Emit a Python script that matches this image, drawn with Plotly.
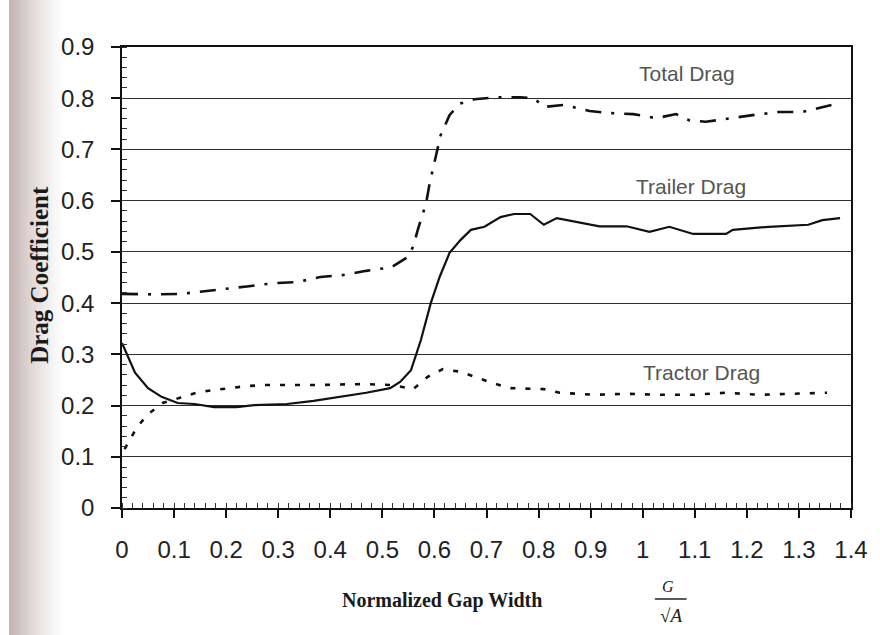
import plotly.graph_objects as go

# Normalized gap width G/sqrt(A) and drag coefficients
trailer_x = [0, 0.025, 0.05, 0.076, 0.107, 0.139, 0.177, 0.22, 0.254, 0.317, 0.368, 0.42, 0.469,
             0.515, 0.534, 0.555, 0.574, 0.593, 0.610, 0.629, 0.650, 0.670, 0.696, 0.727, 0.753,
             0.784, 0.81, 0.835, 0.874, 0.917, 0.969, 1.013, 1.051, 1.097, 1.160, 1.173, 1.242,
             1.318, 1.345, 1.379]
trailer_cd = [0.322, 0.264, 0.234, 0.217, 0.205, 0.203, 0.197, 0.197, 0.201, 0.203, 0.209, 0.217,
              0.225, 0.234, 0.246, 0.269, 0.328, 0.400, 0.451, 0.498, 0.523, 0.543, 0.549, 0.568,
              0.574, 0.574, 0.553, 0.566, 0.558, 0.550, 0.550, 0.539, 0.549, 0.535, 0.535, 0.543,
              0.549, 0.553, 0.562, 0.566]

total_x = [0, 0.06, 0.114, 0.154, 0.2, 0.244, 0.292, 0.336, 0.381, 0.425, 0.469, 0.517, 0.549,
           0.559, 0.568, 0.584, 0.591, 0.601, 0.612, 0.629, 0.648, 0.677, 0.721, 0.765, 0.791,
           0.81, 0.849, 0.898, 0.937, 0.982, 1.026, 1.064, 1.089, 1.121, 1.165, 1.211, 1.261,
           1.306, 1.364]
total_cd = [0.418, 0.417, 0.418, 0.422, 0.428, 0.433, 0.439, 0.441, 0.451, 0.455, 0.463, 0.470,
            0.490, 0.510, 0.543, 0.595, 0.635, 0.679, 0.728, 0.767, 0.789, 0.798, 0.802, 0.802,
            0.800, 0.783, 0.787, 0.775, 0.771, 0.769, 0.761, 0.769, 0.757, 0.754, 0.761, 0.767,
            0.773, 0.773, 0.787]

tractor_x = [0.005, 0.029, 0.05, 0.078, 0.111, 0.143, 0.174, 0.206, 0.240, 0.273, 0.368, 0.463,
             0.52, 0.559, 0.587, 0.616, 0.650, 0.683, 0.715, 0.746, 0.81, 0.841, 0.906, 0.969,
             1.032, 1.097, 1.160, 1.223, 1.287, 1.354]
tractor_cd = [0.115, 0.158, 0.183, 0.205, 0.215, 0.225, 0.230, 0.234, 0.238, 0.240, 0.240, 0.242,
              0.240, 0.232, 0.256, 0.271, 0.266, 0.254, 0.243, 0.234, 0.232, 0.225, 0.221, 0.223,
              0.221, 0.221, 0.225, 0.221, 0.223, 0.225]

curve_labels = ["Total Drag", "Trailer Drag", "Tractor Drag"]
label_pos = [(1.085, 0.848), (1.093, 0.628), (1.112, 0.265)]

fig = go.Figure()
fig.add_trace(go.Scatter(x=total_x, y=total_cd, mode="lines", name=curve_labels[0],
                         line=dict(color="#111", width=2.6, dash="16px,10px,3px,10px")))
fig.add_trace(go.Scatter(x=trailer_x, y=trailer_cd, mode="lines", name=curve_labels[1],
                         line=dict(color="#111", width=2.2)))
fig.add_trace(go.Scatter(x=tractor_x, y=tractor_cd, mode="lines", name=curve_labels[2],
                         line=dict(color="#111", width=2.6, dash="5px,10px")))

for text, (lx, ly) in zip(curve_labels, label_pos):
    fig.add_annotation(x=lx, y=ly, xref="x", yref="y", text=text, showarrow=False,
                       xanchor="center", yanchor="middle",
                       font=dict(family="Liberation Sans, Arial", size=21, color="#555"))

PL, PW, PT, PH = 122, 736, 47, 461


def px_x(p):
    return (p - PL) / PW


def px_y(p):
    return (PT + PH - p) / PH


def paper_text(xp, yp, text, size, angle=0, color="#1a1a1a"):
    fig.add_annotation(x=px_x(xp), y=px_y(yp), xref="paper", yref="paper", text=text,
                       showarrow=False, xanchor="center", yanchor="middle", textangle=angle,
                       font=dict(family="Liberation Serif, Times New Roman", size=size,
                                 color=color))


# axis titles
paper_text(445, 600, "<b>Normalized Gap Width</b>", 20)
paper_text(38, 275, "<b>Drag Coefficient</b>", 25, angle=-90)
# G / sqrt(A)
paper_text(673, 586, "<i>G</i>", 16, color="#222")
paper_text(676, 615, "√<i>A</i>", 19, color="#222")
fig.add_shape(type="line", xref="paper", yref="paper", x0=px_x(660), x1=px_x(692),
              y0=px_y(599), y1=px_y(599), line=dict(color="#222", width=1.5))

# shaded scan margin on the left edge
n_strips = 28
for i in range(n_strips):
    p0 = 8 + i * 2
    a = 0.8 * (1 - i / n_strips) ** 1.3
    fig.add_shape(type="rect", xref="paper", yref="paper", x0=px_x(p0), x1=px_x(p0 + 2),
                  y0=px_y(635), y1=px_y(0), line=dict(width=0),
                  fillcolor=f"rgba(180,160,160,{a:.3f})", layer="below")

fig.update_layout(
    width=880, height=635,
    margin=dict(l=PL, r=880 - PL - PW, t=PT, b=635 - PT - PH),
    paper_bgcolor="white", plot_bgcolor="white",
    showlegend=False,
    font=dict(family="Liberation Sans, Arial", color="#222"),
)
fig.update_xaxes(
    range=[0, 1.4], dtick=0.1, tick0=0, showgrid=False, zeroline=False,
    showline=True, linecolor="#111", linewidth=1.5, mirror=True,
    ticks="outside", ticklen=8, tickwidth=1.5, tickcolor="#111",
    minor=dict(dtick=0.02, ticks="inside", ticklen=5, tickcolor="#333", tickwidth=1),
    tickfont=dict(size=24, color="#222"), ticklabelstandoff=11,
)
fig.update_yaxes(
    range=[0, 0.9], dtick=0.1, tick0=0, showgrid=True, gridcolor="#2e2e2e", gridwidth=1.3,
    zeroline=False, showline=True, linecolor="#111", linewidth=1.5, mirror=True,
    ticks="outside", ticklen=9, tickwidth=1.5, tickcolor="#111",
    minor=dict(dtick=0.02, ticks="inside", ticklen=5, tickcolor="#333", tickwidth=1, showgrid=False),
    tickfont=dict(size=24, color="#222"), ticklabelstandoff=12,
)

fig.write_html("out.html")
